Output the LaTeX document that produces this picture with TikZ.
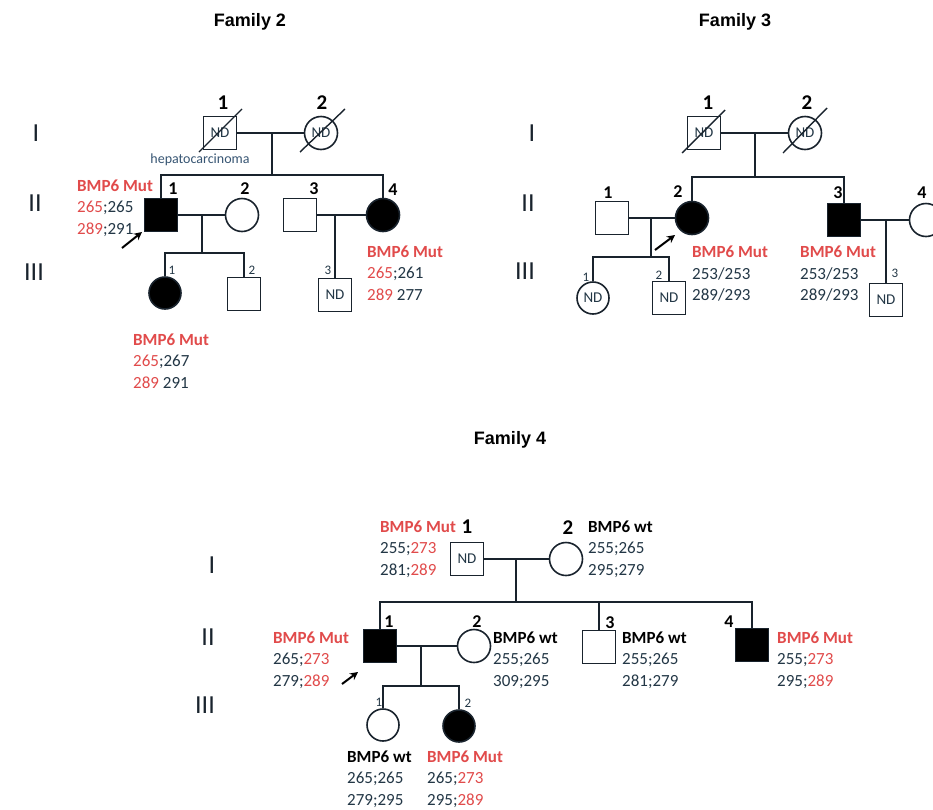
\documentclass[tikz,border=0pt]{standalone}
\usepackage{fontspec}
\setmainfont{Carlito}
\newfontfamily\titlefont{Liberation Sans}
\usetikzlibrary{calc,arrows.meta}
\definecolor{lc}{RGB}{25,35,45}
\definecolor{tc}{RGB}{35,55,70}
\definecolor{mred}{RGB}{225,75,75}
\definecolor{hep}{RGB}{55,85,115}
\tikzset{
  ind/.style={draw=lc, line width=1.6pt, minimum size=33pt, inner sep=0pt, font=\fontsize{15}{15}\selectfont, text=tc},
  male/.style={ind, rectangle},
  female/.style={ind, circle},
  sfemale/.style={ind, circle, minimum size=32pt},
  aff/.style={fill=black},
  link/.style={draw=lc, line width=1.6pt},
  slash/.style={draw=lc, line width=1.4pt},
  numL/.style={font=\bfseries\fontsize{21}{21}\selectfont, text=black, inner sep=0pt},
  numM/.style={font=\bfseries\fontsize{18}{18}\selectfont, text=black, inner sep=0pt},
  numS/.style={font=\fontsize{13}{13}\selectfont, text=tc, inner sep=0pt},
  gen/.style={font=\fontsize{26}{26}\selectfont, text=lc, inner sep=0pt},
  geno/.style={anchor=west, align=left, inner sep=0pt, font=\fontsize{17}{21.5}\selectfont, text=tc},
  ttl/.style={font=\titlefont\bfseries\fontsize{18}{18}\selectfont, inner sep=0pt},
  proband/.style={draw=black, line width=2pt, -{Stealth[length=8pt,width=8pt]}}
}
\newcommand{\mutl}{\textcolor{mred}{\textbf{BMP6 Mut}}}
\newcommand{\wtl}{\textcolor{black}{\textbf{BMP6 wt}}}
\newcommand{\rd}[1]{\textcolor{mred}{#1}}
\begin{document}
\begin{tikzpicture}[x=1pt,y=-1pt]
\useasboundingbox (0,0) rectangle (933,809);
\fill[white] (0,0) rectangle (933,809);

% ================= Family 2 =================
\node[ttl] (t2) at (250,22) {Family 2};
\node[gen] (g2a) at (36,133) {I};
\node[gen] (g2b) at (35,203) {II};
\node[gen] (g2c) at (34,272) {III};

\node[male] (f2I1) at (220,133) {ND};
\node[female] (f2I2) at (321,133) {ND};
\draw[slash] ($(f2I1.center)+(-21,19)$) -- ($(f2I1.center)+(22,-24)$);
\draw[slash] ($(f2I2.center)+(-21,19)$) -- ($(f2I2.center)+(24,-24)$);
\node[numL] (f2I1n) at (223,103) {1};
\node[numL] (f2I2n) at (322,103) {2};
\node[font=\fontsize{14}{14}\selectfont, text=hep, inner sep=0pt] (hepa) at (200,160) {hepatocarcinoma};

\coordinate (f2m1) at (272,133);
\coordinate (f2s1) at (272,175);
\draw[link] (f2I1) -- (f2I2);
\draw[link] (f2m1) -- (f2s1);

\node[male, aff] (f2II1) at (161,215) {};
\node[female] (f2II2) at (242,215) {};
\node[male] (f2II3) at (300,215) {};
\node[female, aff] (f2II4) at (383,215) {};
\node[numM] (f2II1n) at (173,189) {1};
\node[numM] (f2II2n) at (245,189) {2};
\node[numM] (f2II3n) at (314,189) {3};
\node[numM] (f2II4n) at (393,190) {4};
\draw[link] (f2II1.north) |- (f2s1) -| (f2II4.north);
\draw[link] (f2II1) -- (f2II2);
\draw[link] (f2II3) -- (f2II4);

\coordinate (f2m2) at (202,215);
\coordinate (f2s2) at (202,253);
\draw[link] (f2m2) -- (f2s2);
\node[sfemale, aff] (f2III1) at (165,293) {};
\node[male] (f2III2) at (244,294) {};
\node[numS] (f2III1n) at (172,270) {1};
\node[numS] (f2III2n) at (252,270) {2};
\draw[link] (f2III1.north) |- (f2s2) -| (f2III2.north);

\node[male] (f2III3) at (335,295) {ND};
\node[numS] (f2III3n) at (328,270) {3};
\coordinate (f2m3) at (335,215);
\draw[link] (f2m3) -- (f2III3.north);

\coordinate (f2a1) at (122,248);
\coordinate (f2a2) at (142,232);
\draw[proband] (f2a1) -- (f2a2);

\node[geno] (f2g1) at (77,208) {\mutl\\\rd{265};265\\\rd{289};291};
\node[geno] (f2g2) at (367,273) {\mutl\\\rd{265};261\\\rd{289} 277};
\node[geno] (f2g3) at (133,361) {\mutl\\\rd{265};267\\\rd{289} 291};

% ================= Family 3 =================
\node[ttl] (t3) at (735,22) {Family 3};
\node[gen] (g3a) at (532,133) {I};
\node[gen] (g3b) at (528,203) {II};
\node[gen] (g3c) at (525,271) {III};

\node[male] (f3I1) at (704,133) {ND};
\node[female] (f3I2) at (805,133) {ND};
\draw[slash] ($(f3I1.center)+(-22,20)$) -- ($(f3I1.center)+(21,-23)$);
\draw[slash] ($(f3I2.center)+(-22,20)$) -- ($(f3I2.center)+(22,-25)$);
\node[numL] (f3I1n) at (708,103) {1};
\node[numL] (f3I2n) at (807,103) {2};
\coordinate (f3m1) at (755,133);
\coordinate (f3s1) at (755,177);
\draw[link] (f3I1) -- (f3I2);
\draw[link] (f3m1) -- (f3s1);

\node[male] (f3II1) at (612,218) {};
\node[female, aff] (f3II2) at (692,218) {};
\node[male, aff] (f3II3) at (844,220) {};
\node[female] (f3II4) at (926,220) {};
\node[numM] (f3II1n) at (608,193) {1};
\node[numM] (f3II2n) at (678,192) {2};
\node[numM] (f3II3n) at (838,193) {3};
\node[numM] (f3II4n) at (922,193) {4};
\draw[link] (f3II2.north) |- (f3s1) -| (f3II3.north);
\draw[link] (f3II1) -- (f3II2);
\draw[link] (f3II3) -- (f3II4);

\coordinate (f3m2) at (651,218);
\coordinate (f3s2) at (651,257);
\draw[link] (f3m2) -- (f3s2);
\node[sfemale] (f3III1) at (593,298) {ND};
\node[male] (f3III2) at (669,298) {ND};
\node[numS] (f3III1n) at (586,277) {1};
\node[numS] (f3III2n) at (659,275) {2};
\draw[link] (f3III1.north) |- (f3s2) -| (f3III2.north);

\node[male] (f3III3) at (886,300) {ND};
\node[numS] (f3III3n) at (895,273) {3};
\coordinate (f3m3) at (886,220);
\draw[link] (f3m3) -- (f3III3.north);

\coordinate (f3a1) at (655,250);
\coordinate (f3a2) at (675,235);
\draw[proband] (f3a1) -- (f3a2);

\node[geno] (f3g1) at (692,274) {\mutl\\253/253\\289/293};
\node[geno] (f3g2) at (800,274) {\mutl\\253/253\\289/293};

% ================= Family 4 =================
\node[ttl] (t4) at (510,440) {Family 4};
\node[gen] (g4a) at (212,565) {I};
\node[gen] (g4b) at (208,637) {II};
\node[gen] (g4c) at (205,705) {III};

\node[male] (f4I1) at (467,559) {ND};
\node[female] (f4I2) at (566,559) {};
\node[numL] (f4I1n) at (467,527) {1};
\node[numL] (f4I2n) at (568,528) {2};
\coordinate (f4m1) at (516,559);
\coordinate (f4s1) at (516,602);
\draw[link] (f4I1) -- (f4I2);
\draw[link] (f4m1) -- (f4s1);

\node[male, aff] (f4II1) at (380,646) {};
\node[female] (f4II2) at (474,646) {};
\node[male] (f4II3) at (599,647) {};
\node[male, aff] (f4II4) at (752,645) {};
\node[numM] (f4II1n) at (389,622) {1};
\node[numM] (f4II2n) at (477,622) {2};
\node[numM] (f4II3n) at (610,623) {3};
\node[numM] (f4II4n) at (729,622) {4};
\draw[link] (f4II1.north) |- (f4s1) -| (f4II4.north);
\draw[link] (f4II3.north) -- (f4II3.north |- f4s1);
\draw[link] (f4II1) -- (f4II2);

\coordinate (f4m2) at (421,646);
\coordinate (f4s2) at (421,686);
\draw[link] (f4m2) -- (f4s2);
\node[sfemale] (f4III1) at (383,725) {};
\node[sfemale, aff] (f4III2) at (459,726) {};
\node[numS] (f4III1n) at (379,702) {1};
\node[numS] (f4III2n) at (468,703) {2};
\draw[link] (f4III1.north) |- (f4s2) -| (f4III2.north);

\coordinate (f4a1) at (342,684);
\coordinate (f4a2) at (358,672);
\draw[proband] (f4a1) -- (f4a2);

\node[geno] (f4g1) at (380,549) {\mutl\\255;\rd{273}\\281;\rd{289}};
\node[geno] (f4g2) at (588,549) {\wtl\\255;265\\295;279};
\node[geno] (f4g3) at (273,660) {\mutl\\265;\rd{273}\\279;\rd{289}};
\node[geno] (f4g4) at (493,660) {\wtl\\255;265\\309;295};
\node[geno] (f4g5) at (622,660) {\wtl\\255;265\\281;279};
\node[geno] (f4g6) at (777,660) {\mutl\\255;\rd{273}\\295;\rd{289}};
\node[geno] (f4g7) at (347,779) {\wtl\\265;265\\279;295};
\node[geno] (f4g8) at (427,779) {\mutl\\265;\rd{273}\\295;\rd{289}};
\end{tikzpicture}
\end{document}
